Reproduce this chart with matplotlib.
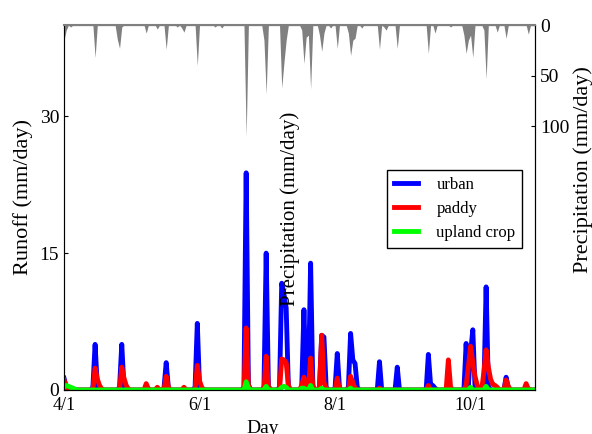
import numpy as np
import matplotlib
matplotlib.use('Agg')
import matplotlib.pyplot as plt

plt.rcParams['font.family'] = ['Liberation Serif', 'DejaVu Serif']

# days counted from 4/1
n_days = 214
tick_days = [0, 61, 122, 183]
tick_labels = ['4/1', '6/1', '8/1', '10/1']

# runoff (mm/day), only the days that are not zero
urban_days = [0, 1, 13, 14, 15, 25, 26, 27, 45, 46, 47, 59, 60, 61, 81, 82, 83,
              90, 91, 92, 97, 98, 99, 100, 101, 107, 108, 109, 110, 111, 112,
              115, 116, 117, 118, 122, 123, 124, 128, 129, 130, 131, 132,
              142, 150, 164, 165, 166, 167, 181, 182, 183, 184, 185,
              189, 190, 191, 199, 200]
urban_vals = [1.3, 0.3, 0.3, 5.0, 0.4, 0.3, 5.0, 0.3, 0.2, 3.0, 0.2, 0.3, 7.3, 0.4, 0.3, 23.8, 0.6,
              0.3, 15.0, 0.4, 0.3, 11.7, 10.5, 9.0, 0.3, 0.3, 8.8, 0.4, 0.5, 13.9, 0.4,
              0.3, 6.0, 5.8, 0.3, 0.2, 4.0, 0.2, 0.3, 6.2, 3.3, 2.9, 0.3,
              3.1, 2.5, 3.9, 0.6, 0.5, 0.2, 5.1, 0.5, 4.0, 6.6, 0.3,
              0.3, 11.3, 0.4, 1.4, 0.2]

paddy_days = [0, 1, 2, 14, 15, 16, 17, 26, 27, 28, 29, 37, 38, 42, 46, 47, 54,
              60, 61, 62, 82, 83, 91, 92, 98, 99, 100, 101, 107, 108, 109,
              111, 112, 115, 116, 117, 118, 123, 129, 130, 131, 142, 164,
              173, 174, 181, 182, 183, 184, 185, 186, 189, 190, 191, 192, 193, 194, 195,
              199, 200, 208, 209]
paddy_vals = [1.1, 0.4, 0.1, 2.4, 1.2, 0.5, 0.1, 2.5, 1.3, 0.5, 0.1, 0.7, 0.1, 0.3, 1.5, 0.3, 0.3,
              2.7, 1.0, 0.3, 6.8, 0.5, 3.7, 0.4, 3.4, 3.3, 3.0, 0.5, 0.5, 1.4, 0.2,
              3.5, 0.5, 0.3, 6.0, 0.8, 0.2, 1.3, 1.5, 0.8, 0.2, 0.2, 0.5,
              3.3, 0.3, 0.5, 2.5, 4.8, 3.0, 1.5, 0.5, 2.0, 4.4, 2.5, 1.2, 0.6, 0.5, 0.3,
              1.1, 0.4, 0.7, 0.1]

upland_days = [0, 1, 2, 3, 4, 5, 82, 83, 91, 98, 99, 100, 107, 108, 111, 116, 129, 183, 190]
upland_vals = [0.3, 0.5, 0.4, 0.3, 0.2, 0.1, 0.9, 0.2, 0.4, 0.3, 0.4, 0.3, 0.2, 0.2, 0.5, 0.2, 0.2, 0.3, 0.4]

# precipitation (mm/day)
rain_days = [0, 1, 3, 14, 24, 25, 26, 37, 42, 46, 51, 53, 54, 60, 68, 71, 82,
             90, 91, 98, 99, 100, 107, 108, 109, 110, 111, 115, 116, 117, 120, 123,
             128, 129, 130, 131, 134, 142, 144, 145, 150, 164, 167, 174,
             180, 181, 182, 183, 184, 189, 190, 195, 199, 209]
rain_vals = [15, 5, 2, 32, 14, 23, 2, 8, 4, 24, 2, 3, 7, 40, 2, 3, 110,
             15, 68, 62, 37, 15, 5, 38, 12, 10, 63, 10, 26, 8, 3, 23,
             8, 30, 15, 13, 3, 24, 2, 5, 23, 28, 8, 2,
             10, 28, 15, 10, 32, 5, 53, 7, 13, 9]

days = np.arange(n_days)
urban = np.zeros(n_days); urban[urban_days] = urban_vals
paddy = np.zeros(n_days); paddy[paddy_days] = paddy_vals
upland = np.zeros(n_days); upland[upland_days] = upland_vals
rain = np.zeros(n_days); rain[rain_days] = rain_vals

fig = plt.figure(figsize=(5.92, 4.34), dpi=100)
ax = fig.add_axes([64/592, 1-390/434, 471/592, 365/434])

ax.plot(days, urban, color='blue', lw=3.5, label='urban')
ax.plot(days, paddy, color='red', lw=3.5, label='paddy')
ax.plot(days, upland, color='lime', lw=3.5, label='upland crop')
ax.set_xlim(0, 212)
ax.set_ylim(0, 40)
ax.set_yticks([0, 15, 30])
ax.set_xticks(tick_days)
ax.set_xticklabels(tick_labels)
ax.tick_params(direction='in', length=3, labelsize=14)
ax.tick_params(axis='x', labelsize=13, pad=5)
ax.spines['left'].set_color('0.3')

leg = ax.legend(loc='upper left', bbox_to_anchor=(0.686, 0.603), borderaxespad=0,
                fontsize=12, fancybox=False, framealpha=1, edgecolor='black',
                handlelength=1.45, handletextpad=1.1)
leg.get_frame().set_linewidth(1.0)

ax2 = ax.twinx()
ax2.fill_between(days, 0, rain, color='gray', lw=0)
ax2.set_ylim(360, 0)
ax2.set_yticks([0, 50, 100])
ax2.tick_params(direction='in', length=3, labelsize=14)
ax2.spines['top'].set_color('gray')
ax2.spines['top'].set_linewidth(1.5)

fig.text(23/592, 1-197/434, 'Runoff (mm/day)', rotation=90, ha='center', va='center', fontsize=16)
fig.text(583/592, 1-170/434, 'Precipitation (mm/day)', rotation=90, ha='center', va='center', fontsize=16)
fig.text(290/592, 1-209/434, 'Precipitation (mm/day)', rotation=90, ha='center', va='center', fontsize=15)
fig.text(263/592, 1-433/434, 'Day', ha='center', va='baseline', fontsize=14)

fig.savefig('out.png', dpi=100)
